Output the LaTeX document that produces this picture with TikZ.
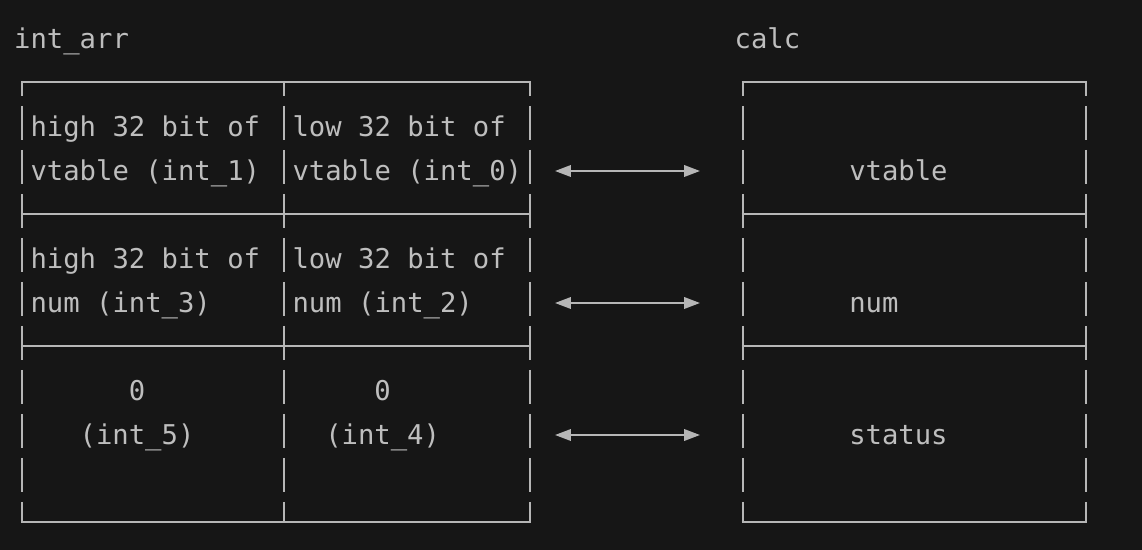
\documentclass[tikz,border=0pt]{standalone}
\usepackage{fontspec}
\setmonofont{DejaVu Sans Mono}
\usepackage{tikz}
\usetikzlibrary{arrows.meta}
\definecolor{termbg}{RGB}{22,22,22}
\definecolor{termfg}{RGB}{190,190,190}
\definecolor{termline}{RGB}{182,182,182}

\begin{document}
\begin{tikzpicture}[x=0.02cm, y=-0.02cm,
    cell/.style={anchor=base west, inner sep=0pt, text=termfg, font=\ttfamily\fontsize{15.5}{25}\selectfont},
    rule/.style={termline, line width=1.14pt},
    bar/.style={rule, dash pattern=on 19.35pt off 5.69pt, dash phase=10.81pt},
    link/.style={termline, line width=1.14pt, {Triangle[length=9pt,width=6.5pt]}-{Triangle[length=9pt,width=6.5pt]}}]
    % Background
    \fill[termbg] (0,0) rectangle (1142,550);
    \useasboundingbox (0,0) rectangle (1142,550);

    % Titles
    \node[cell] (arrname) at (13.8,48.5) {int\_arr};
    \node[cell] (calcname) at (734.3,48.5) {calc};

    % int_arr table
    \draw[rule] (21,82) -- (530.5,82);
    \draw[rule] (21,214) -- (530.5,214);
    \draw[rule] (21,346) -- (530.5,346);
    \draw[rule] (21,522) -- (530.5,522);
    \draw[bar] (22,81) -- (22,523);
    \draw[bar] (284,81) -- (284,523);
    \draw[bar] (529.5,81) -- (529.5,523);

    % calc table
    \draw[rule] (741.5,82) -- (1087,82);
    \draw[rule] (741.5,214) -- (1087,214);
    \draw[rule] (741.5,346) -- (1087,346);
    \draw[rule] (741.5,522) -- (1087,522);
    \draw[bar] (742.5,81) -- (742.5,523);
    \draw[bar] (1086,81) -- (1086,523);

    % Cells of int_arr
    \node[cell] (hione) at (30.2,136.5) {high 32 bit of};
    \node[cell] (hionetag) at (30.2,180.5) {vtable (int\_1)};
    \node[cell] (lozero) at (292.2,136.5) {low 32 bit of};
    \node[cell] (lozerotag) at (292.2,180.5) {vtable (int\_0)};
    \node[cell] (hithree) at (30.2,268.5) {high 32 bit of};
    \node[cell] (hithreetag) at (30.2,312.5) {num (int\_3)};
    \node[cell] (lotwo) at (292.2,268.5) {low 32 bit of};
    \node[cell] (lotwotag) at (292.2,312.5) {num (int\_2)};
    \node[cell] (zfive) at (128.4,400.5) {0};
    \node[cell] (zfivetag) at (79.3,444.5) {(int\_5)};
    \node[cell] (zfour) at (374.1,400.5) {0};
    \node[cell] (zfourtag) at (324.9,444.5) {(int\_4)};

    % Fields of calc
    \node[cell] (fvtable) at (848.9,180.5) {vtable};
    \node[cell] (fnum) at (848.9,312.5) {num};
    \node[cell] (fstatus) at (848.9,444.5) {status};

    % Mapping arrows
    \coordinate (vtL) at (555,171);
    \coordinate (vtR) at (700,171);
    \coordinate (numL) at (555,303);
    \coordinate (numR) at (700,303);
    \coordinate (stL) at (555,435);
    \coordinate (stR) at (700,435);
    \draw[link] (vtL) -- (vtR);
    \draw[link] (numL) -- (numR);
    \draw[link] (stL) -- (stR);
\end{tikzpicture}
\end{document}
